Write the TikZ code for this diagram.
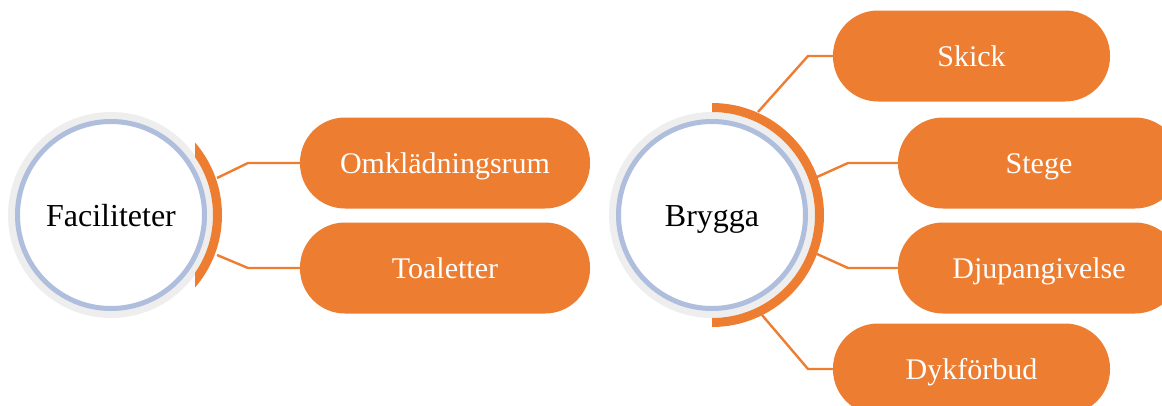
\documentclass[tikz,border=0pt]{standalone}
\usepackage{fontspec}
\setmainfont{Liberation Serif}
\definecolor{orng}{HTML}{ED7D31}
\definecolor{ringgray}{HTML}{EEEEEE}
\definecolor{ringblue}{HTML}{AFBEDC}
\begin{document}
\begin{tikzpicture}[x=1pt,y=-1pt,
  pill/.style={rectangle, rounded corners=45pt, fill=orng, text=white,
    minimum width=#1, minimum height=91pt, inner sep=0pt,
    font=\fontsize{30}{34}\selectfont, text height=20pt, text depth=0pt},
  hub/.style={circle, fill=white, draw=ringblue, line width=5pt,
    minimum size=187pt, inner sep=0pt,
    font=\fontsize{32}{36}\selectfont, text height=22pt, text depth=0pt},
  link/.style={draw=orng, line width=2.4pt}]
\useasboundingbox (0,0) rectangle (1162,405);
\clip (0,0) rectangle (1162,405);

% centres
\coordinate (c1) at (111,215);
\coordinate (c2) at (712,215);

% gray halos
\fill[ringgray] (c1) circle[radius=103pt];
\fill[ringgray] (c2) circle[radius=103pt];

% orange arcs
\begin{scope}
  \clip (195,0) rectangle (400,405);
  \fill[orng, even odd rule] (c1) circle[radius=111pt] (c1) circle[radius=102pt];
\end{scope}
\begin{scope}
  \clip (712,0) rectangle (900,405);
  \fill[orng, even odd rule] (c2) circle[radius=112pt] (c2) circle[radius=103pt];
\end{scope}

% hubs
\node[hub] (fac) at (c1) {Faciliteter};
\node[hub] (bry) at (c2) {Brygga};

% pills
\node[pill=290pt] (omk) at (445,163) {Omklädningsrum};
\node[pill=290pt] (toa) at (445,268) {Toaletter};
\node[pill=277pt] (skick) at (971.5,56) {Skick};
\node[pill=282pt] (stege) at (1039,163) {Stege};
\node[pill=282pt] (djup) at (1039,268) {Djupangivelse};
\node[pill=277pt] (dyk) at (971.5,369) {Dykförbud};

% connector points
\coordinate (a1) at (217,178); \coordinate (k1) at (248,163);
\coordinate (a2) at (217,255); \coordinate (k2) at (248,268);
\coordinate (b1) at (758,112); \coordinate (m1) at (808,56);
\coordinate (b2) at (817,177); \coordinate (m2) at (848,163);
\coordinate (b3) at (817,254); \coordinate (m3) at (848,268);
\coordinate (b4) at (762,315); \coordinate (m4) at (808,369);

\draw[link] (a1) -- (k1) -- (omk.west);
\draw[link] (a2) -- (k2) -- (toa.west);
\draw[link] (b1) -- (m1) -- (skick.west);
\draw[link] (b2) -- (m2) -- (stege.west);
\draw[link] (b3) -- (m3) -- (djup.west);
\draw[link] (b4) -- (m4) -- (dyk.west);
\end{tikzpicture}
\end{document}
